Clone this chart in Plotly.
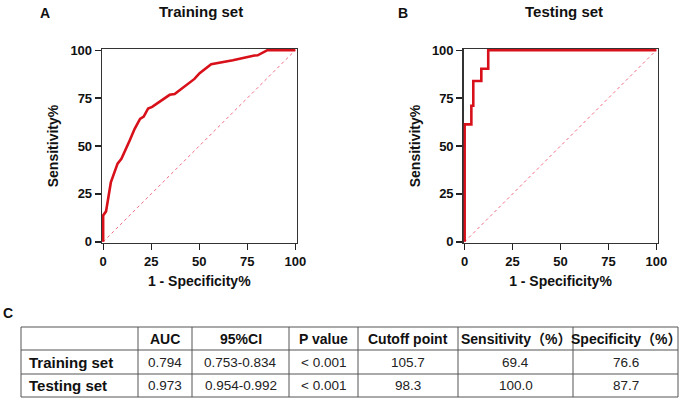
import plotly.graph_objects as go

W, H = 691, 403

# ---------------- data ----------------
train_fpr = [0, 0, 1.5, 4.0, 7.5, 9.5, 13.8, 16.4, 19.2, 21.1, 23.4, 25.5, 34.6, 37.2, 47.5, 50.2, 56.2, 67.5, 78.7, 80.4, 85.5, 100]
train_sens = [0, 13.8, 15.9, 31.0, 40.8, 43.3, 52.9, 59.0, 64.1, 65.3, 69.6, 70.4, 76.7, 77.1, 85.0, 88.0, 92.6, 94.7, 97.2, 97.3, 100, 100]

test_fpr = [0, 0, 3.5, 4.5, 8.7, 12.3, 100]
test_sens = [0, 61.3, 71.0, 83.9, 90.3, 100, 100]

ref_line = [0, 100]
tick_vals = [0, 25, 50, 75, 100]

panel_titles = ["Training set", "Testing set"]
panel_letters = ["A", "B", "C"]

table_header = ["", "AUC", "95%CI", "P value", "Cutoff point", "Sensitivity（%）", "Specificity（%）"]
table_rows = [
    ["Training set", "0.794", "0.753-0.834", "< 0.001", "105.7", "69.4", "76.6"],
    ["Testing set", "0.973", "0.954-0.992", "< 0.001", "98.3", "100.0", "87.7"],
]

# ---------------- layout helpers ----------------
def px(x):
    return x / W

def py(y):
    return 1 - y / H

FONT = "Liberation Sans, Arial, Noto Sans CJK SC, sans-serif"
RED = "#d8101a"

fig = go.Figure()

for i, (fx, fy) in enumerate([(train_fpr, train_sens), (test_fpr, test_sens)]):
    xa = "x" if i == 0 else "x2"
    ya = "y" if i == 0 else "y2"
    fig.add_trace(go.Scatter(x=ref_line, y=ref_line, mode="lines", xaxis=xa, yaxis=ya,
                             line=dict(color="#ee6a82", width=1, dash="dot"), showlegend=False))
    fig.add_trace(go.Scatter(x=fx, y=fy, mode="lines", xaxis=xa, yaxis=ya,
                             line=dict(color=RED, width=2.6, shape="linear" if i == 0 else "hv"),
                             showlegend=False))

axis_common = dict(range=[-0.6, 100.6], tickvals=tick_vals, ticks="outside", ticklen=6, tickwidth=1.3,
                   tickcolor="#222", showline=True, linecolor="#333", linewidth=1.3, mirror=True,
                   showgrid=False, zeroline=False, layer="below traces", automargin=False,
                   tickfont=dict(family=FONT, size=13, color="#111", weight="bold"))

xdoms = [[px(102), px(296.5)], [px(463.5), px(657.5)]]
ydom = [py(243), py(49)]

layout_axes = {}
for i in range(2):
    sx = "" if i == 0 else "2"
    layout_axes["xaxis" + sx] = dict(axis_common, domain=xdoms[i], anchor="y" + sx,
                                     title=dict(text="1 - Specificity%", standoff=8,
                                                font=dict(family=FONT, size=14, color="#111", weight="bold")))
    layout_axes["yaxis" + sx] = dict(axis_common, domain=ydom, anchor="x" + sx,
                                     title=dict(text="Sensitivity%", standoff=8,
                                                font=dict(family=FONT, size=14, color="#111", weight="bold")))

annotations = []
title_cx = [200.7, 564]
letter_x = [45, 403]
for i in range(2):
    annotations.append(dict(text="<b>%s</b>" % panel_titles[i], x=px(title_cx[i]), y=py(12), xref="paper", yref="paper",
                            showarrow=False, xanchor="center", yanchor="middle",
                            font=dict(family=FONT, size=15, color="#111")))
    annotations.append(dict(text="<b>%s</b>" % panel_letters[i], x=px(letter_x[i]), y=py(13), xref="paper", yref="paper",
                            showarrow=False, xanchor="center", yanchor="middle",
                            font=dict(family=FONT, size=14, color="#111")))
annotations.append(dict(text="<b>%s</b>" % panel_letters[2], x=px(8), y=py(313), xref="paper", yref="paper",
                        showarrow=False, xanchor="center", yanchor="middle",
                        font=dict(family=FONT, size=14, color="#111")))

# ---------------- table ----------------
col_edges = [21, 138, 192, 289, 358, 458, 573, 678]
row_edges = [327, 350, 374, 397]
shapes = []
LINE = dict(color="#555", width=1)
for x in col_edges:
    shapes.append(dict(type="line", xref="paper", yref="paper", x0=px(x), x1=px(x),
                       y0=py(row_edges[0]), y1=py(row_edges[-1]), line=LINE))
for y in row_edges:
    shapes.append(dict(type="line", xref="paper", yref="paper", x0=px(col_edges[0]), x1=px(col_edges[-1]),
                       y0=py(y), y1=py(y), line=LINE))

all_rows = [table_header] + table_rows
for r, row in enumerate(all_rows):
    yc = (row_edges[r] + row_edges[r + 1]) / 2
    for c, txt in enumerate(row):
        if not txt:
            continue
        if c == 0:
            x, anchor = col_edges[0] + 6, "left"
            font = dict(family=FONT, size=15, color="#111")
            txt = "<b>%s</b>" % txt
        else:
            x, anchor = (col_edges[c] + col_edges[c + 1]) / 2, "center"
            if r == 0:
                font = dict(family=FONT, size=14, color="#111")
                txt = "<b>%s</b>" % txt
            else:
                font = dict(family=FONT, size=13.5, color="#222")
        annotations.append(dict(text=txt, x=px(x), y=py(yc), xref="paper", yref="paper",
                                showarrow=False, xanchor=anchor, yanchor="middle", font=font))

fig.update_layout(width=W, height=H, margin=dict(l=0, r=0, t=0, b=0, autoexpand=False),
                  paper_bgcolor="white", plot_bgcolor="white", hovermode=False,
                  annotations=annotations, shapes=shapes, **layout_axes)

fig.write_html("out.html", config={"displayModeBar": False, "staticPlot": True},
               post_script="document.body.style.margin='0';document.body.style.overflow='hidden';")
